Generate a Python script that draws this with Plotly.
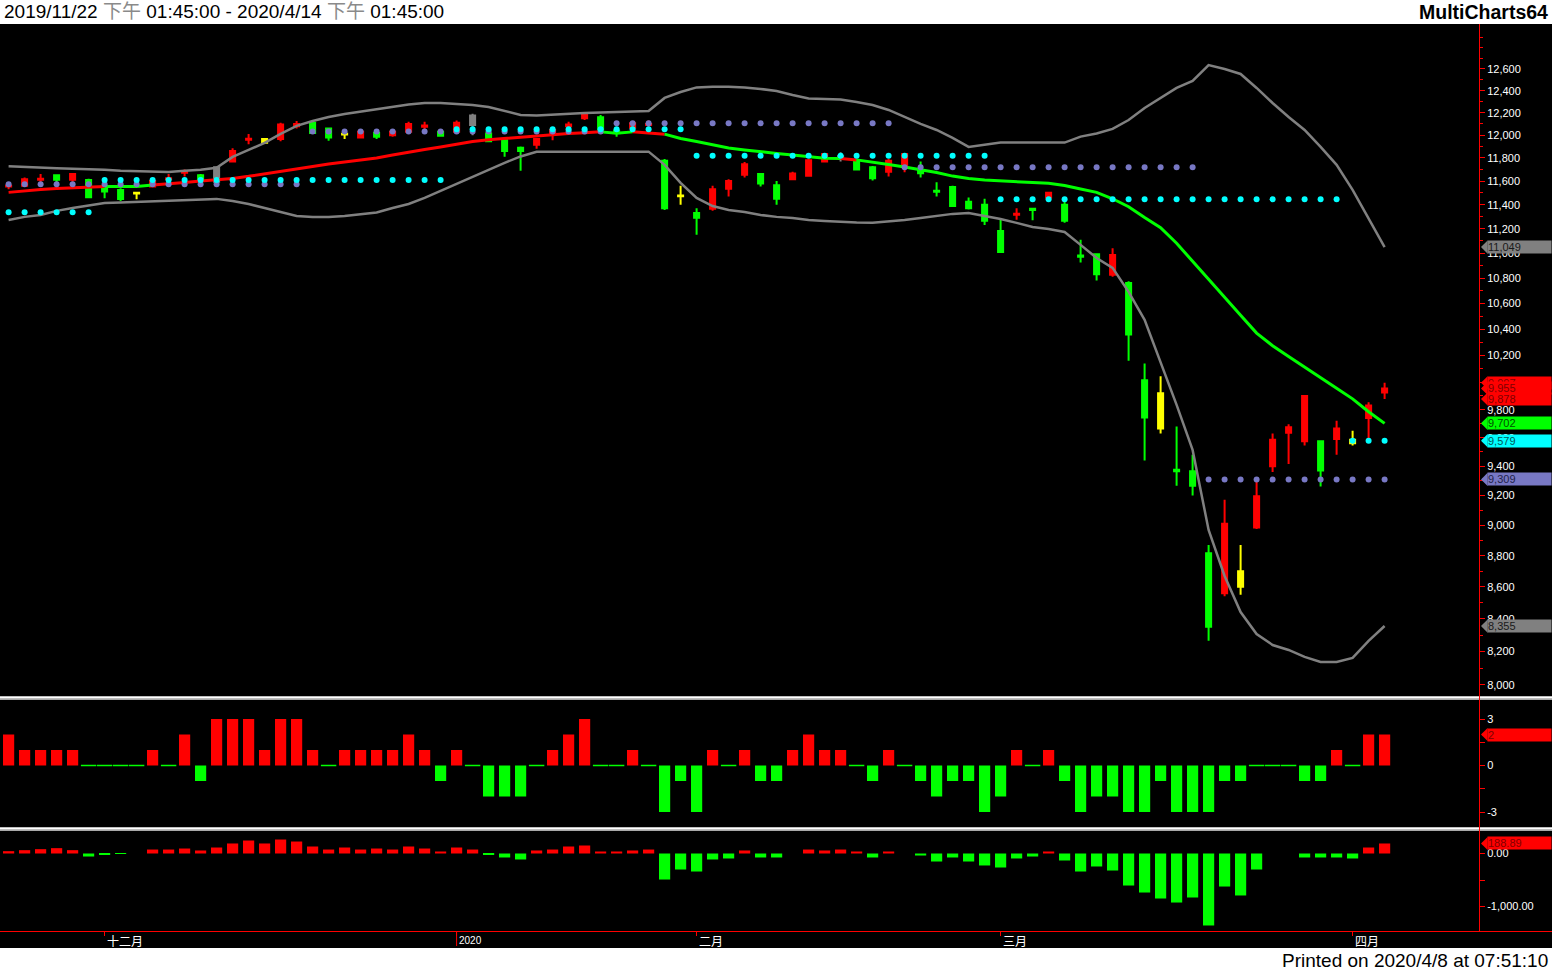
import math
import plotly.graph_objects as go

W, H = 1552, 971

# ---------------- data ----------------
bars = list(range(87))  # trading days 2019/11/22 .. 2020/4/7

open_ = [11555, 11560, 11612, 11650, 11612, 11610, 11535, 11525, 11500, 11555,
         11615, 11672, 11650, 11595, 11770, 11960, 11965, 11965, 12078, 12110,
         12060, 12012, 11980, 12020, 12000, 12030, 12075, 12030, 12030, 12090,
         12015, 11955, 11890, 11915, 12020, 12080, 12150, 12160, 12040, 12065,
         12090, 11775, 11478, 11330, 11365, 11535, 11655, 11660, 11565, 11615,
         11645, 11770, 11800, 11780, 11720, 11680, 11730, 11690, 11518, 11550,
         11425, 11400, 11180, 11315, 11365, 11460, 11400, 10980, 10990, 10825,
         10760, 10015, 9920, 9375, 9365, 8815, 8560, 8700, 8985, 9400,
         9635, 9575, 9575, 9590, 9585, 9740, 9925]
high = [11580, 11630, 11660, 11652, 11665, 11620, 11537, 11540, 11502, 11605,
        11660, 11700, 11660, 11725, 11885, 12010, 11970, 12110, 12125, 12115,
        12062, 12025, 12035, 12025, 12040, 12120, 12120, 12035, 12130, 12190,
        12020, 11960, 11900, 11970, 12055, 12120, 12185, 12180, 12070, 12110,
        12130, 11790, 11560, 11370, 11560, 11615, 11765, 11665, 11600, 11680,
        11790, 11840, 11850, 11790, 11730, 11790, 11840, 11770, 11590, 11560,
        11460, 11450, 11280, 11370, 11368, 11505, 11430, 11110, 10995, 11040,
        10775, 10140, 10045, 9680, 9480, 8870, 9170, 8870, 9300, 9630,
        9695, 9905, 9580, 9720, 9650, 9855, 9997]
low = [11530, 11550, 11590, 11565, 11595, 11458, 11455, 11432, 11445, 11550,
       11590, 11640, 11612, 11590, 11760, 11920, 11925, 11945, 12060, 12015,
       11950, 11965, 11975, 11965, 11985, 12015, 12040, 11985, 12025, 12000,
       11940, 11810, 11690, 11880, 11955, 12075, 12135, 12045, 11985, 12055,
       12055, 11355, 11400, 11150, 11350, 11470, 11630, 11555, 11400, 11610,
       11640, 11760, 11770, 11695, 11605, 11640, 11675, 11630, 11470, 11380,
       11360, 11230, 11005, 11275, 11270, 11455, 11250, 10925, 10780, 10810,
       10160, 9440, 9630, 9265, 9200, 8265, 8540, 8550, 8975, 9360,
       9415, 9545, 9260, 9480, 9545, 9585, 9878]
close = [11560, 11615, 11620, 11612, 11660, 11462, 11512, 11448, 11495, 11600,
         11625, 11680, 11617, 11720, 11860, 11968, 11932, 12095, 12100, 12020,
         11980, 12005, 12030, 11985, 12030, 12100, 12085, 11995, 12110, 12175,
         11945, 11860, 11860, 11965, 12045, 12095, 12180, 12050, 12030, 12105,
         12100, 11370, 11472, 11290, 11530, 11600, 11745, 11580, 11450, 11665,
         11780, 11835, 11815, 11700, 11625, 11775, 11835, 11668, 11510, 11390,
         11370, 11265, 11010, 11325, 11355, 11500, 11265, 10970, 10830, 10985,
         10360, 9745, 9665, 9365, 9265, 8350, 9010, 8600, 9195, 9585,
         9675, 9900, 9370, 9665, 9560, 9830, 9955]
candle_color = list("rrrgrgggyr" "rrgkrryrrg" "gyrgrrrgrk" "gggrrrrggr" "rgygrrrggr"
                    "rrkggrrggg" "gggrgrgggr" "ggygggryrr" "rrgryrr")

ma = [11504, 11517, 11528, 11536, 11543, 11550, 11554, 11556, 11554, 11567,
      11575, 11588, 11600, 11609, 11623, 11641, 11661, 11683, 11704, 11726,
      11748, 11765, 11783, 11800, 11826, 11852, 11874, 11896, 11922, 11944,
      11959, 11970, 11983, 11998, 12009, 12015, 12022, 12029, 12017, 12029,
      12022, 12009, 11971, 11944, 11917, 11887, 11870, 11852, 11839, 11826,
      11813, 11797, 11796, 11783, 11765, 11743, 11722, 11700, 11674, 11643,
      11622, 11609, 11600, 11592, 11588, 11581, 11562, 11533, 11504, 11450,
      11383, 11292, 11208, 11080, 10936, 10788, 10650, 10508, 10370, 10274,
      10192, 10115, 10038, 9957, 9879, 9786, 9702]
# colour of the MA segment that ends at each bar
ma_color = list("rrrrrrrggg" "rrrrrrrrrr" "rrrrrrrrrr" "rrrrrrrrgg" "rrgggggggg"
                "gggrgggggg" "gggggggggg" "gggggggggg" "ggggggg")

bb_upper = [11727, 11720, 11716, 11710, 11707, 11703, 11697, 11688, 11684, 11679,
            11679, 11688, 11697, 11714, 11809, 11870, 11932, 12011, 12082, 12126,
            12162, 12188, 12211, 12229, 12252, 12275, 12288, 12288, 12279, 12270,
            12252, 12215, 12180, 12175, 12184, 12193, 12197, 12202, 12206, 12206,
            12215, 12334, 12388, 12430, 12437, 12437, 12430, 12416, 12397, 12361,
            12329, 12325, 12320, 12297, 12270, 12225, 12162, 12100, 12046, 11975,
            11896, 11914, 11934, 11934, 11934, 11934, 11934, 11987, 12015, 12055,
            12135, 12243, 12334, 12425, 12490, 12637, 12600, 12554, 12425, 12288,
            12162, 12046, 11896, 11740, 11525, 11289, 11049]
bb_lower = [11272, 11298, 11314, 11348, 11372, 11393, 11414, 11419, 11423, 11427,
            11431, 11436, 11440, 11449, 11431, 11406, 11372, 11339, 11306, 11298,
            11298, 11306, 11323, 11335, 11372, 11406, 11457, 11517, 11576, 11632,
            11697, 11757, 11813, 11853, 11855, 11855, 11855, 11855, 11855, 11855,
            11855, 11740, 11585, 11457, 11389, 11356, 11339, 11314, 11298, 11289,
            11272, 11264, 11256, 11252, 11250, 11260, 11272, 11289, 11306, 11323,
            11331, 11306, 11281, 11248, 11214, 11198, 11173, 11067, 10961, 10881,
            10690, 10472, 10152, 9835, 9514, 8969, 8669, 8442, 8306, 8239,
            8209, 8167, 8137, 8137, 8161, 8264, 8355]

cyan_level = [11337] * 6 + [11610] * 22 + [12052] * 15 + [11818] * 19 + [11446] * 22 + [9579] * 3
purple_level = [11574] * 19 + [12033] * 19 + [12106] * 18 + [11720] * 19 + [9309] * 12

osc1 = [2, 1, 1, 1, 1, 0, 0, 0, 0, 1, 0, 2, -1, 3, 3, 3, 1, 3, 3, 1,
        0, 1, 1, 1, 1, 2, 1, -1, 1, 0, -2, -2, -2, 0, 1, 2, 3, 0, 0, 1,
        0, -3, -1, -3, 1, 0, 1, -1, -1, 1, 2, 1, 1, 0, -1, 1, 0, -1, -2, -1,
        -1, -3, -2, 1, 0, 1, -1, -3, -2, -2, -3, -3, -1, -3, -3, -3, -1, -1, 0, 0,
        0, -1, -1, 1, 0, 2, 2]
osc2 = [44, 63, 82, 101, 63, -57, -19, -8, 0, 75, 75, 94, 57, 113, 189, 245, 189, 264, 226, 132,
        75, 113, 75, 94, 75, 132, 94, 38, 113, 75, -15, -75, -113, 57, 75, 132, 151, 38, 38, 57,
        75, -491, -302, -340, -113, -94, 57, -75, -75, 0, 75, 57, 75, 38, -75, 38, 0, -38, -151, -75,
        -151, -226, -264, -94, -57, 38, -132, -340, -245, -321, -604, -736, -849, -925, -830, -1358, -623, -792, -302, 0,
        0, -75, -75, -75, -94, 113, 188.89]

price_ticks = [8000, 8200, 8400, 8600, 8800, 9000, 9200, 9400, 9600, 9800, 10000, 10200,
               10400, 10600, 10800, 11000, 11200, 11400, 11600, 11800, 12000, 12200, 12400, 12600]
month_ticks = [6, 28, 43, 62, 84]
month_labels = ["十二月", "2020", "二月", "三月", "四月"]

# ---------------- geometry helpers ----------------
def fx(p):
    return p / W


def fy(p):
    return 1 - p / H


XR = 1479 / W
XMIN = -8.6 / 16
XMAX = XMIN + 1479 / 16

RED, GREEN, YEL, GRAY = "#ff0000", "#00ff00", "#ffff00", "#808080"
CYAN, PURP = "#00ffff", "#7878c4"
cmap = {"r": RED, "g": GREEN, "y": YEL, "k": GRAY}

fig = go.Figure()

# candles
for key, col in cmap.items():
    xs = [i for i in bars if candle_color[i] == key]
    fig.add_trace(go.Candlestick(
        x=xs, open=[open_[i] for i in xs], high=[high[i] for i in xs],
        low=[low[i] for i in xs], close=[close[i] for i in xs],
        increasing=dict(line=dict(color=col, width=2), fillcolor=col),
        decreasing=dict(line=dict(color=col, width=2), fillcolor=col),
        whiskerwidth=0, xaxis="x", yaxis="y", showlegend=False, hoverinfo="skip"))

# bollinger bands
for band in (bb_upper, bb_lower):
    fig.add_trace(go.Scatter(x=bars, y=band, mode="lines", line=dict(color=GRAY, width=2.5),
                             xaxis="x", yaxis="y", hoverinfo="skip"))

# moving average, coloured per segment
runs = []
for i in range(1, len(bars)):
    c = ma_color[i]
    if runs and runs[-1][0] == c:
        runs[-1][1].append(i)
    else:
        runs.append([c, [i - 1, i]])
for c, seg in runs:
    fig.add_trace(go.Scatter(x=seg, y=[ma[j] for j in seg], mode="lines",
                             line=dict(color=cmap[c], width=3),
                             xaxis="x", yaxis="y", hoverinfo="skip"))

# dotted levels
fig.add_trace(go.Scatter(x=bars, y=purple_level, mode="markers", marker=dict(size=6, color=PURP),
                         xaxis="x", yaxis="y", hoverinfo="skip"))
fig.add_trace(go.Scatter(x=bars, y=cyan_level, mode="markers", marker=dict(size=6, color=CYAN),
                         xaxis="x", yaxis="y", hoverinfo="skip"))

# oscillator 1
fig.add_trace(go.Bar(x=bars, y=osc1, width=0.7,
                     marker=dict(color=[RED if v > 0 else GREEN for v in osc1], line=dict(width=0)),
                     xaxis="x2", yaxis="y2", hoverinfo="skip"))
zero_x = [i for i in bars if osc1[i] == 0]
fig.add_trace(go.Scatter(x=zero_x, y=[0] * len(zero_x), mode="markers",
                         marker=dict(symbol="line-ew", size=11, line=dict(color=GREEN, width=1.5)),
                         xaxis="x2", yaxis="y2", hoverinfo="skip"))
# oscillator 2
fig.add_trace(go.Bar(x=bars, y=osc2, width=0.7,
                     marker=dict(color=[RED if v > 0 else GREEN for v in osc2], line=dict(width=0)),
                     xaxis="x3", yaxis="y3", hoverinfo="skip"))

# ---------------- value tags on the right ----------------
tags = [("y", 11049, GRAY, "#1a1a1a", "11,049"),
        ("y", bb_lower[-1], GRAY, "#1a1a1a", f"{bb_lower[-1]:,}"),
        ("y", high[-1], RED, "#800000", f"{high[-1]:,}"),
        ("y", close[-1], RED, "#800000", f"{close[-1]:,}"),
        ("y", low[-1], RED, "#800000", f"{low[-1]:,}"),
        ("y", ma[-1], GREEN, "#005000", f"{ma[-1]:,}"),
        ("y", cyan_level[-1], CYAN, "#005a5a", f"{cyan_level[-1]:,}"),
        ("y", purple_level[-1], PURP, "#23234a", f"{purple_level[-1]:,}"),
        ("y2", osc1[-1], RED, "#800000", "%d" % osc1[-1]),
        ("y3", osc2[-1], RED, "#800000", "%.2f" % osc2[-1])]

annotations = []
for ya, v, bg, fg, txt in tags:
    yv = math.log10(v) if ya == "y" else v
    annotations.append(dict(xref="paper", yref=ya, x=fx(1481), y=yv, ax=6, ay=0,
                            showarrow=True, arrowhead=1, arrowsize=1, arrowwidth=2.2, arrowcolor=bg,
                            xanchor="left", yanchor="middle", text=txt,
                            bgcolor=bg, width=63, height=12, align="left", borderpad=0,
                            font=dict(family="Liberation Sans", size=11, color=fg)))

# header / footer / month labels
annotations.append(dict(xref="paper", yref="paper", x=fx(2), y=fy(12), xanchor="left", yanchor="middle",
                        showarrow=False,
                        text='2019/11/22 <span style="color:#8a8a8a">下午</span> 01:45:00 - 2020/4/14 '
                             '<span style="color:#8a8a8a">下午</span> 01:45:00',
                        font=dict(family="Liberation Sans, Noto Sans CJK TC", size=19, color="#000000")))
annotations.append(dict(xref="paper", yref="paper", x=fx(1550), y=fy(12), xanchor="right", yanchor="middle",
                        showarrow=False, text="<b>MultiCharts64</b>",
                        font=dict(family="Liberation Sans", size=19.5, color="#000000")))
annotations.append(dict(xref="paper", yref="paper", x=fx(1550), y=fy(960), xanchor="right", yanchor="middle",
                        showarrow=False, text="Printed on 2020/4/8 at 07:51:10",
                        font=dict(family="Liberation Sans", size=19, color="#000000")))
for t, lab in zip(month_ticks, month_labels):
    annotations.append(dict(xref="x3", yref="paper", x=t, y=fy(940), xanchor="left", yanchor="middle",
                            showarrow=False, text=lab,
                            font=dict(family="Noto Sans CJK TC" if lab != "2020" else "Liberation Sans",
                                      size=12 if lab != "2020" else 10, color="#ffffff")))

shapes = [
    dict(type="rect", xref="paper", yref="paper", x0=0, x1=1, y0=fy(24), y1=1,
         fillcolor="#ffffff", line=dict(width=0)),
    dict(type="rect", xref="paper", yref="paper", x0=0, x1=1, y0=0, y1=fy(948),
         fillcolor="#ffffff", line=dict(width=0)),
    dict(type="rect", xref="paper", yref="paper", x0=0, x1=1, y0=fy(700), y1=fy(696),
         fillcolor="#a8a8a8", line=dict(width=0)),
    dict(type="line", xref="paper", yref="paper", x0=0, x1=1, y0=fy(697.5), y1=fy(697.5),
         line=dict(color="#ffffff", width=1.5)),
    dict(type="rect", xref="paper", yref="paper", x0=0, x1=1, y0=fy(831), y1=fy(827),
         fillcolor="#a8a8a8", line=dict(width=0)),
    dict(type="line", xref="paper", yref="paper", x0=0, x1=1, y0=fy(828.5), y1=fy(828.5),
         line=dict(color="#ffffff", width=1.5)),
    dict(type="line", xref="paper", yref="paper", x0=fx(1479.5), x1=fx(1479.5), y0=fy(931), y1=fy(24),
         line=dict(color=RED, width=1)),
    dict(type="line", xref="paper", yref="paper", x0=0, x1=1, y0=fy(931.5), y1=fy(931.5),
         line=dict(color=RED, width=1)),
    dict(type="line", xref="x3", yref="paper", x0=month_ticks[1], x1=month_ticks[1], y0=fy(946), y1=fy(931),
         line=dict(color=RED, width=1)),
]

tickfont = dict(family="Liberation Sans", size=11, color="#ffffff")
common_x = dict(showgrid=False, zeroline=False, showline=False, showticklabels=False)

fig.update_layout(
    width=W, height=H, margin=dict(l=0, r=0, t=0, b=0),
    paper_bgcolor="#000000", plot_bgcolor="#000000", showlegend=False,
    boxmode="overlay", boxgap=0.55, hovermode=False,
    xaxis=dict(domain=[0, XR], range=[XMIN, XMAX], anchor="y", ticks="",
               rangeslider=dict(visible=False), **common_x),
    xaxis2=dict(domain=[0, XR], matches="x", anchor="y2", ticks="", **common_x),
    xaxis3=dict(domain=[0, XR], matches="x", anchor="y3", tickmode="array", tickvals=month_ticks,
                ticks="outside", ticklen=4, tickcolor=RED, tickwidth=1, **common_x),
    yaxis=dict(domain=[fy(695), fy(25)], type="log", range=[3.89986, 4.11446], side="right", anchor="x",
               tickmode="array", tickvals=price_ticks, ticktext=[f"{v:,}" for v in price_ticks],
               ticks="outside", ticklen=5, tickcolor=RED, tickwidth=1, tickfont=tickfont,
               minor=dict(tickmode="array", tickvals=list(range(8100, 13000, 200)) + [12800],
                          ticks="outside", ticklen=3, tickcolor=RED, tickwidth=1),
               showgrid=False, zeroline=False, showline=False),
    yaxis2=dict(domain=[fy(826), fy(700)], range=[-3.903, 4.226], side="right", anchor="x2",
                tickmode="array", tickvals=[3, 1.5, 0, -1.5, -3], ticktext=["3", "", "0", "", "-3"],
                ticks="outside", ticklen=5, tickcolor=RED, tickwidth=1, tickfont=tickfont,
                showgrid=False, zeroline=False, showline=False),
    yaxis3=dict(domain=[fy(931), fy(831)], range=[-1462, 424.5], side="right", anchor="x3",
                tickmode="array", tickvals=[0, -500, -1000], ticktext=["0.00", "", "-1,000.00"],
                ticks="outside", ticklen=5, tickcolor=RED, tickwidth=1, tickfont=tickfont,
                showgrid=False, zeroline=False, showline=False),
    annotations=annotations, shapes=shapes,
)

fig.write_html("out.html", config={"displayModeBar": False},
               post_script="document.body.style.margin='0';document.body.style.overflow='hidden';")
